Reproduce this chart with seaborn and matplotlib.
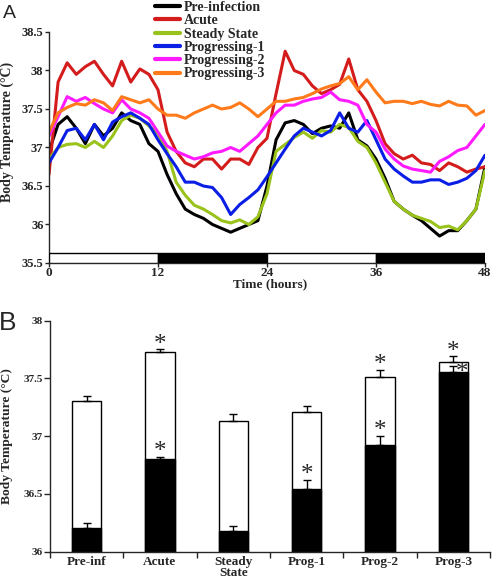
import numpy as np
import pandas as pd
import matplotlib
matplotlib.use('Agg')
import matplotlib.pyplot as plt
import seaborn as sns

sns.set_style('ticks')
plt.rcParams['font.family'] = ['Liberation Serif', 'DejaVu Serif']
plt.rcParams['font.weight'] = 'bold'
plt.rcParams['axes.linewidth'] = 1.0

# ---- Panel A: hourly body temperature over 48 h ----
hours = np.arange(0, 49)
pre_infection = [36.95, 37.30, 37.40, 37.25, 37.05, 37.30, 37.15, 37.25, 37.45, 37.35,
                 37.30, 37.05, 36.95, 36.65, 36.40, 36.20, 36.13, 36.08, 36.00, 35.95,
                 35.90, 35.95, 36.00, 36.05, 36.50, 37.10, 37.32, 37.35, 37.30, 37.18,
                 37.25, 37.28, 37.25, 37.45, 37.10, 37.02, 36.85, 36.60, 36.30, 36.20,
                 36.12, 36.05, 35.95, 35.85, 35.92, 35.92, 36.05, 36.20, 36.75]
acute = [36.65, 37.85, 38.10, 37.95, 38.05, 38.12, 37.95, 37.80, 38.12, 37.85,
         38.02, 37.95, 37.75, 37.20, 36.95, 36.80, 36.75, 36.85, 36.85, 36.72,
         36.85, 36.85, 36.78, 37.00, 37.12, 37.70, 38.25, 38.00, 37.95, 37.80,
         37.70, 37.75, 37.82, 38.15, 37.75, 37.60, 37.35, 37.05, 36.92, 36.85,
         36.90, 36.80, 36.78, 36.70, 36.80, 36.75, 36.68, 36.72, 36.75]
steady_state = [36.85, 37.00, 37.04, 37.05, 37.00, 37.08, 37.00, 37.15, 37.35, 37.42,
                37.38, 37.28, 37.18, 36.95, 36.55, 36.38, 36.25, 36.20, 36.13, 36.05,
                36.02, 36.06, 36.00, 36.10, 36.40, 36.95, 37.04, 37.13, 37.20, 37.12,
                37.22, 37.20, 37.30, 37.26, 37.08, 37.00, 36.80, 36.55, 36.30, 36.20,
                36.12, 36.08, 36.04, 35.96, 35.98, 35.93, 36.05, 36.20, 36.70]
progressing_1 = [36.80, 37.00, 37.22, 37.25, 37.10, 37.30, 37.10, 37.33, 37.40, 37.45,
                 37.38, 37.30, 37.10, 36.92, 36.75, 36.55, 36.55, 36.50, 36.48, 36.35,
                 36.13, 36.26, 36.35, 36.45, 36.62, 36.80, 36.98, 37.15, 37.25, 37.20,
                 37.15, 37.22, 37.45, 37.25, 37.20, 37.35, 37.10, 36.85, 36.72, 36.63,
                 36.55, 36.55, 36.58, 36.58, 36.52, 36.55, 36.60, 36.70, 36.90]
progressing_2 = [37.15, 37.40, 37.66, 37.60, 37.65, 37.57, 37.50, 37.45, 37.62, 37.50,
                 37.45, 37.38, 37.20, 37.02, 36.95, 36.90, 36.85, 36.88, 36.93, 36.95,
                 37.00, 36.95, 37.05, 37.15, 37.30, 37.45, 37.55, 37.55, 37.60, 37.63,
                 37.65, 37.72, 37.62, 37.60, 37.55, 37.30, 37.20, 36.98, 36.85, 36.76,
                 36.72, 36.70, 36.68, 36.82, 36.88, 36.96, 37.00, 37.15, 37.30]
progressing_3 = [37.20, 37.45, 37.52, 37.57, 37.55, 37.62, 37.58, 37.48, 37.66, 37.62,
                 37.58, 37.62, 37.50, 37.42, 37.42, 37.38, 37.45, 37.50, 37.55, 37.50,
                 37.52, 37.58, 37.50, 37.40, 37.50, 37.60, 37.60, 37.63, 37.65, 37.70,
                 37.76, 37.80, 37.83, 37.92, 37.75, 37.88, 37.72, 37.58, 37.60, 37.60,
                 37.57, 37.60, 37.56, 37.54, 37.60, 37.55, 37.54, 37.42, 37.48]

groups = ['Pre-infection', 'Acute', 'Steady State',
          'Progressing-1', 'Progressing-2', 'Progressing-3']
colors = ['#000000', '#d41c1c', '#99c31a', '#0a1ee6', '#ff1aff', '#ff7a1a']

# light/dark phases along the time axis
phase_start = [0, 12, 24, 36]
phase_dark = [False, True, False, True]

# ---- Panel B: mean light/dark phase temperature per stage ----
stages = ['Pre-inf', 'Acute', 'Steady\nState', 'Prog-1', 'Prog-2', 'Prog-3']
light_mean = [37.30, 37.73, 37.13, 37.21, 37.51, 37.645]
light_sem = [0.05, 0.02, 0.06, 0.05, 0.06, 0.045]
dark_mean = [36.20, 36.80, 36.18, 36.54, 36.92, 37.55]
dark_sem = [0.045, 0.02, 0.04, 0.08, 0.08, 0.06]
light_sig = [False, True, False, False, True, True]
dark_sig = [False, True, False, True, True, True]

fig = plt.figure(figsize=(4.92, 5.78), dpi=100)
axA = fig.add_axes([49 / 492, 1 - 263 / 578, 436 / 492, 231 / 578])
axB = fig.add_axes([50 / 492, 1 - 551.5 / 578, 440 / 492, 231 / 578])

df_a = pd.DataFrame({
    'hour': np.tile(hours, len(groups)),
    'temp': np.concatenate([pre_infection, acute, steady_state,
                            progressing_1, progressing_2, progressing_3]),
    'group': np.repeat(groups, len(hours)),
})
sns.lineplot(data=df_a, x='hour', y='temp', hue='group', hue_order=groups,
             palette=colors, linewidth=2.2, ax=axA)

axA.bar(phase_start, 0.13, bottom=35.5, width=12, align='edge',
        color=['black' if d else 'white' for d in phase_dark],
        edgecolor='black', linewidth=1, zorder=3)

axA.set_xlim(0, 48)
axA.set_ylim(35.5, 38.5)
axA.set_xticks([0, 12, 24, 36, 48])
axA.set_yticks(np.arange(35.5, 38.51, 0.5))
axA.set_yticklabels(['%g' % v for v in np.arange(35.5, 38.51, 0.5)])
axA.tick_params(axis='y', labelsize=9, length=3, width=1, pad=1)
axA.tick_params(axis='x', labelsize=9.5, length=3, width=1, pad=0)
axA.set_xlabel('Time (hours)', fontsize=9.5, fontweight='bold')
axA.set_ylabel('Body Temperature (\u00b0C)', fontsize=10, fontweight='bold')
axA.xaxis.set_label_coords(0.507, -0.065)
axA.yaxis.set_label_coords(-0.080, 0.567)
sns.despine(ax=axA)

handles, labels = axA.get_legend_handles_labels()
axA.legend(handles, labels, loc='upper left', bbox_to_anchor=(155 / 492, 1 - 1 / 578),
           bbox_transform=fig.transFigure, frameon=False, fontsize=10,
           handlelength=1.8, handletextpad=0.3, labelspacing=0.02,
           borderpad=0, borderaxespad=0)
for line in axA.get_legend().get_lines():
    line.set_linewidth(3)

# Panel B bars
df_b = pd.DataFrame({'stage': stages, 'light': light_mean, 'dark': dark_mean})
sns.barplot(data=df_b, x='stage', y='light', color='white', saturation=1,
            edgecolor='black', linewidth=1, width=0.4, ax=axB)
sns.barplot(data=df_b, x='stage', y='dark', color='black', saturation=1,
            edgecolor='black', linewidth=1, width=0.4, ax=axB)
pos = np.arange(len(stages))
zeros = np.zeros(len(stages))
axB.errorbar(pos, light_mean, yerr=[zeros, light_sem], fmt='none', ecolor='black',
             elinewidth=1, capsize=3, capthick=1)
axB.errorbar(pos, dark_mean, yerr=[zeros, dark_sem], fmt='none', ecolor='black',
             elinewidth=1, capsize=3, capthick=1)

star_fs = 18
for i in pos:
    tops = []
    if light_sig[i]:
        tops.append((light_mean[i] + light_sem[i], 0))
    if dark_sig[i]:
        y = dark_mean[i] + dark_sem[i]
        # dark star would sit on the light bar's top -> tuck it to the right
        dx = 6 if y + 0.1 > light_mean[i] else 0
        tops.append((y, dx))
    for y, dx in tops:
        dy = -1.5 if dx else 7.5
        axB.annotate('*', xy=(i, y), xytext=(dx, dy - 0.47 * star_fs),
                     textcoords='offset points', ha='center', va='baseline',
                     fontsize=star_fs, fontweight='normal')

axB.set_xlim(-0.5, len(stages) - 0.5)
axB.set_ylim(36, 38)
axB.set_yticks([36, 36.5, 37, 37.5, 38])
axB.set_yticklabels(['36', '36.5', '37', '37.5', '38'])
axB.set_xticks(np.arange(-0.5, len(stages), 1.0), minor=True)
axB.tick_params(axis='x', which='major', length=0, pad=3, labelsize=9.5)
axB.tick_params(axis='x', which='minor', length=4, width=1)
axB.tick_params(axis='y', labelsize=8, length=4, width=1, pad=1)
for t in axB.get_xticklabels():
    t.set_linespacing(0.95)
axB.set_xlabel('')
axB.set_ylabel('Body Temperature (\u00b0C)', fontsize=9.7, fontweight='bold')
axB.yaxis.set_label_coords(-0.084, 0.498)
sns.despine(ax=axB)

fig.text(9 / 492, 1 - 13 / 578, 'A', fontsize=14, family='Liberation Sans',
         fontweight='normal', ha='center', va='center')
fig.text(8 / 492, 1 - 323 / 578, 'B', fontsize=19, family='Liberation Sans',
         fontweight='normal', ha='center', va='center')

fig.savefig('out.png', dpi=100)
